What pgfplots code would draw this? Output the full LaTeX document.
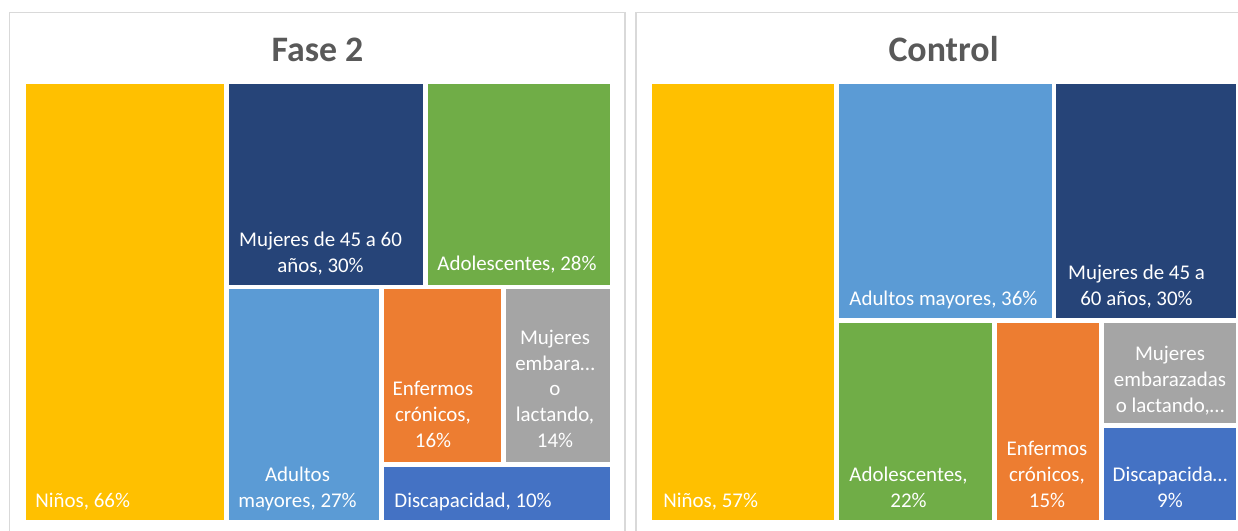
\documentclass[border=0pt]{standalone}
\usepackage{pgfplots}
\pgfplotsset{compat=1.18}
\usepackage{fontspec}
\setmainfont{Carlito}
\definecolor{cYel}{HTML}{FFC000}
\definecolor{cNavy}{HTML}{264478}
\definecolor{cGreen}{HTML}{70AD47}
\definecolor{cLBlue}{HTML}{5B9BD5}
\definecolor{cOrange}{HTML}{ED7D31}
\definecolor{cGray}{HTML}{A5A5A5}
\definecolor{cBlue}{HTML}{4472C4}
\definecolor{cTitle}{HTML}{595959}
\definecolor{cFrame}{HTML}{D9D9D9}
\newcommand\lab{\fontsize{10.5}{12.8}\selectfont}
\newcommand\ml[1]{\begin{tabular}[b]{@{}c@{}}#1\end{tabular}}
\begin{document}
\begin{tikzpicture}[lab/.style={text=white, font=\lab, inner sep=0pt}]
\begin{axis}[name=ax,
  width=619bp, height=265.5bp, scale only axis,
  xmin=0, xmax=1238, ymin=0, ymax=531, y dir=reverse,
  hide axis, clip=true,
]
% panel frames
\addplot[draw=cFrame, line width=0.8bp] coordinates {(9.5,545) (9.5,12.5) (625,12.5) (625,545)};
\addplot[draw=cFrame, line width=0.8bp] coordinates {(636,545) (636,12.5) (1250,12.5)};
% Fase 2
\addplot[draw=none, fill=cYel]    coordinates {(26,84) (224,84) (224,520) (26,520)} --cycle;
\addplot[draw=none, fill=cNavy]   coordinates {(229,84) (423,84) (423,285) (229,285)} --cycle;
\addplot[draw=none, fill=cGreen]  coordinates {(428,84) (610,84) (610,285) (428,285)} --cycle;
\addplot[draw=none, fill=cLBlue]  coordinates {(229,289) (379,289) (379,520) (229,520)} --cycle;
\addplot[draw=none, fill=cOrange] coordinates {(384,289) (501,289) (501,462) (384,462)} --cycle;
\addplot[draw=none, fill=cGray]   coordinates {(506,289) (610,289) (610,462) (506,462)} --cycle;
\addplot[draw=none, fill=cBlue]   coordinates {(384,467) (610,467) (610,520) (384,520)} --cycle;
% Control
\addplot[draw=none, fill=cYel]    coordinates {(652,84) (834,84) (834,520) (652,520)} --cycle;
\addplot[draw=none, fill=cLBlue]  coordinates {(839,84) (1052,84) (1052,318) (839,318)} --cycle;
\addplot[draw=none, fill=cNavy]   coordinates {(1056,84) (1236,84) (1236,318) (1056,318)} --cycle;
\addplot[draw=none, fill=cGreen]  coordinates {(839,323) (992,323) (992,520) (839,520)} --cycle;
\addplot[draw=none, fill=cOrange] coordinates {(997,323) (1099,323) (1099,520) (997,520)} --cycle;
\addplot[draw=none, fill=cGray]   coordinates {(1104,323) (1236,323) (1236,423) (1104,423)} --cycle;
\addplot[draw=none, fill=cBlue]   coordinates {(1104,428) (1236,428) (1236,520) (1104,520)} --cycle;
% titles
\node[anchor=base, text=cTitle, font=\fontsize{18}{20}\selectfont\bfseries, inner sep=0pt] at (axis cs:317.5,62) {Fase 2};
\node[anchor=base, text=cTitle, font=\fontsize{18}{20}\selectfont\bfseries, inner sep=0pt] at (axis cs:943.5,62) {Control};
% labels Fase 2
\node[lab, anchor=base west] at (axis cs:35,507) {Niños, 66\%};
\node[lab, anchor=base] at (axis cs:320.5,272) {\ml{Mujeres de 45 a 60\\años, 30\%}};
\node[lab, anchor=base west] at (axis cs:437,270) {Adolescentes, 28\%};
\node[lab, anchor=base] at (axis cs:297.5,507) {\ml{Adultos\\mayores, 27\%}};
\node[lab, anchor=base] at (axis cs:433,447) {\ml{Enfermos\\crónicos,\\16\%}};
\node[lab, anchor=base] at (axis cs:555,447) {\ml{Mujeres\\embara…\\o\\lactando,\\14\%}};
\node[lab, anchor=base west] at (axis cs:394,507) {Discapacidad, 10\%};
% labels Control
\node[lab, anchor=base west] at (axis cs:663,507) {Niños, 57\%};
\node[lab, anchor=base west] at (axis cs:849,305) {Adultos mayores, 36\%};
\node[lab, anchor=base] at (axis cs:1136.5,305) {\ml{Mujeres de 45 a\\60 años, 30\%}};
\node[lab, anchor=base] at (axis cs:908.5,507) {\ml{Adolescentes,\\22\%}};
\node[lab, anchor=base] at (axis cs:1047,507) {\ml{Enfermos\\crónicos,\\15\%}};
\node[lab, anchor=base] at (axis cs:1170,412) {\ml{Mujeres\\embarazadas\\o lactando,…}};
\node[lab, anchor=base] at (axis cs:1170,507) {\ml{Discapacida…\\9\%}};
\end{axis}
\pgfresetboundingbox
\path (ax.south west) rectangle (ax.north east);
\end{tikzpicture}
\end{document}
